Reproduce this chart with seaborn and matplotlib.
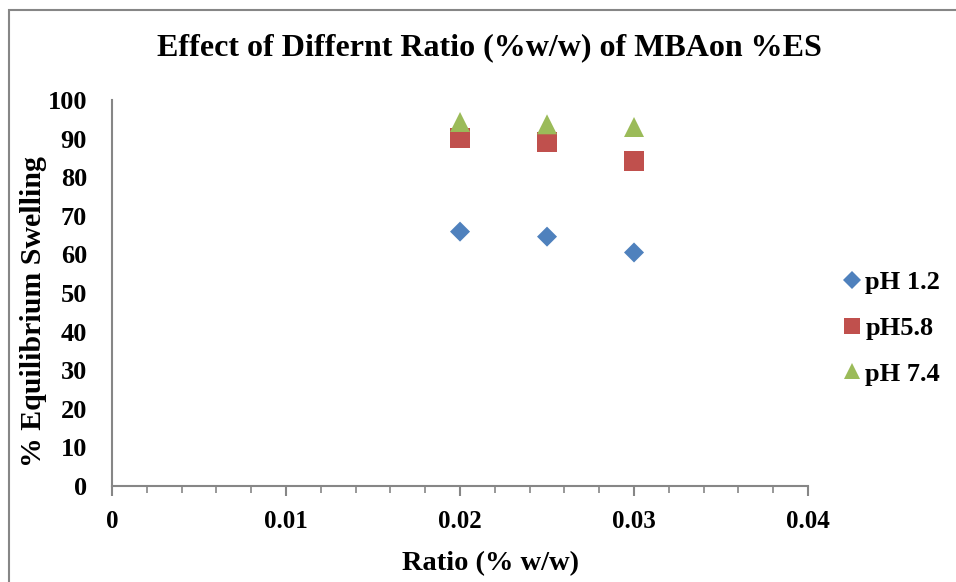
import matplotlib
matplotlib.use("Agg")
import matplotlib.pyplot as plt
import seaborn as sns
import pandas as pd
from matplotlib.patches import Rectangle
from matplotlib.lines import Line2D
from matplotlib.ticker import MultipleLocator

ratio = [0.02, 0.025, 0.03]
ph12 = [65.9, 64.6, 60.5]
ph58 = [90.2, 89.0, 84.2]
ph74 = [94.3, 93.7, 93.0]
series_names = ["pH 1.2", "pH5.8", "pH 7.4"]
colors = ["#4F81BD", "#C0504D", "#9BBB59"]
markers = ["D", "s", "^"]
sizes = [104, 207, 207]

sns.set_theme(style="white")
plt.rcParams['font.family'] = ['Liberation Serif', 'DejaVu Serif']
plt.rcParams['font.weight'] = 'bold'
plt.rcParams['text.color'] = 'black'
plt.rcParams['xtick.color'] = 'black'
plt.rcParams['ytick.color'] = 'black'
plt.rcParams['axes.labelcolor'] = 'black'

fig = plt.figure(figsize=(9.56, 5.82), dpi=100)
ax = fig.add_axes([0.1172, 0.1649, 0.728, 0.6633])

for name, vals, c, m, s in zip(series_names, [ph12, ph58, ph74], colors, markers, sizes):
    df = pd.DataFrame({"x": ratio, "y": vals})
    sns.scatterplot(data=df, x="x", y="y", ax=ax, color=c, marker=m, s=s,
                    edgecolor="none", linewidth=0, zorder=3)

ax.set_xlim(0, 0.04)
ax.set_ylim(0, 100)
ax.xaxis.set_minor_locator(MultipleLocator(0.002))
ax.yaxis.set_major_locator(MultipleLocator(10))
xt = [0, 0.01, 0.02, 0.03, 0.04]
ax.set_xticks(xt)
ax.set_xticklabels(["0", "0.01", "0.02", "0.03", "0.04"])

for sp in ["top", "right"]:
    ax.spines[sp].set_visible(False)
for sp in ["left", "bottom"]:
    ax.spines[sp].set_color("#868686")
    ax.spines[sp].set_linewidth(1.5)

ax.tick_params(axis="x", which="major", direction="out", length=7, width=1.5,
               color="#868686", labelcolor="black", labelsize=18, pad=10, bottom=True)
ax.tick_params(axis="x", which="minor", direction="out", length=5, width=1.2,
               color="#868686", bottom=True)
ax.tick_params(axis="y", which="both", length=0, labelsize=19, pad=18,
               labelcolor="black", left=False)
for lab in ax.get_xticklabels() + ax.get_yticklabels():
    lab.set_fontweight("bold")

ax.set_xlabel("Ratio (% w/w)", fontsize=20.5, fontweight="bold", va="center")
ax.set_ylabel("% Equilibrium Swelling", fontsize=21.5, fontweight="bold", va="center")
ax.xaxis.set_label_coords(0.5437, -0.2)
ax.yaxis.set_label_coords(-0.113, 0.451)
ax.grid(False)

fig.text(0.5115, 0.9175, "Effect of Differnt Ratio (%w/w) of MBAon %ES",
         ha="center", va="center", fontsize=23, fontweight="bold", color="black")

handles = [Line2D([], [], linestyle="none", marker=m, color=c, markersize=ms,
                  markeredgewidth=0)
           for m, c, ms in zip(markers, colors, [9.2, 11.5, 12.2])]
leg = fig.legend(handles, series_names, loc="center left",
                 bbox_to_anchor=(0.857, 0.4364), frameon=False,
                 prop={"size": 19, "weight": "bold"},
                 handlelength=0.7, handletextpad=0.15, labelspacing=0.85)

fig.patches.append(Rectangle((9 / 956, -0.2), 1.2, 1.2 - 9.5 / 582,
                             transform=fig.transFigure, fill=False,
                             edgecolor="#868686", linewidth=1.5, zorder=10))

fig.savefig("out.png", dpi=100)
